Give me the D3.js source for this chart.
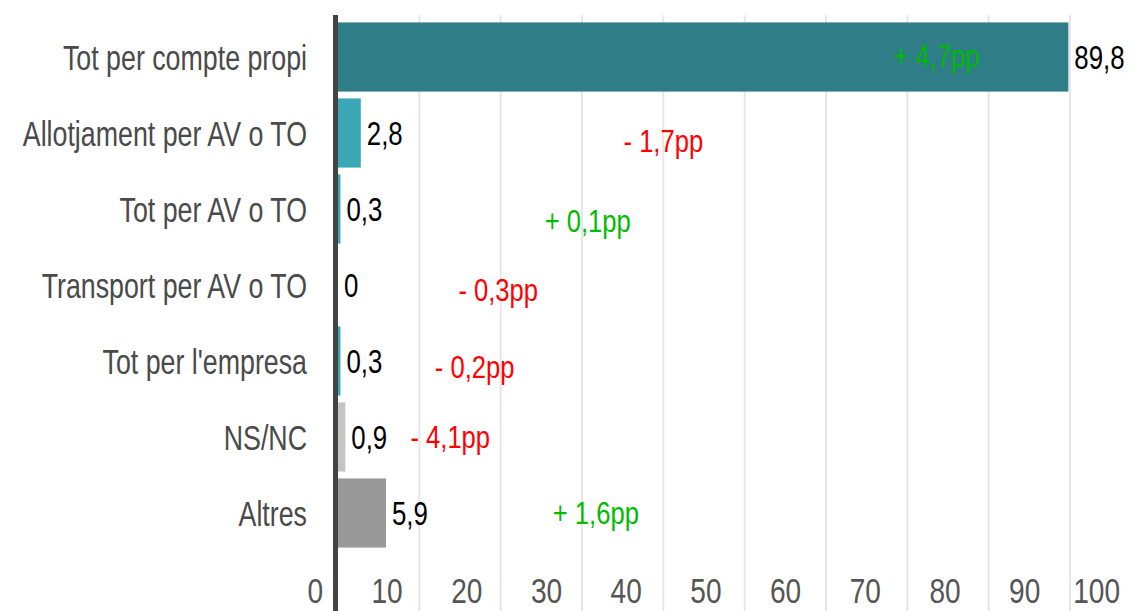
<!DOCTYPE html>
<html>
<head>
<meta charset="utf-8">
<script src="https://cdn.jsdelivr.net/npm/d3@7"></script>
<style>
  body { margin: 0; background: #fff; }
  svg text { font-family: "Liberation Sans", Arial, sans-serif; }
</style>
</head>
<body>
<svg id="chart"></svg>
<script>
'use strict';

// data
var categories = ['Tot per compte propi', 'Allotjament per AV o TO', 'Tot per AV o TO',
                  'Transport per AV o TO', "Tot per l'empresa", 'NS/NC', 'Altres'];
var values     = [89.8, 2.8, 0.3, 0, 0.3, 0.9, 5.9];
var valueText  = ['89,8', '2,8', '0,3', '0', '0,3', '0,9', '5,9'];
var diffs      = [4.7, -1.7, 0.1, -0.3, -0.2, -4.1, 1.6];
var diffText   = ['+ 4,7pp', '- 1,7pp', '+ 0,1pp', '- 0,3pp', '- 0,2pp', '- 4,1pp', '+ 1,6pp'];
var ticks      = [0, 10, 20, 30, 40, 50, 60, 70, 80, 90, 100];

// where each difference label sits (axis units, px below row centre)
var diffAt = [73.6, 40.0, 30.7, 19.7, 16.8, 13.8, 31.7];
var diffDy = [9.5, 18.5, 22.5, 15.5, 16.5, 11, 11];

// colours per bar
var barColors = ['#2e7d87', '#3aa7b5', '#3aa7b5', '#3aa7b5', '#3aa7b5', '#c4c4c4', '#999999'];

// chart size
var W = 1137, H = 611;
var x0 = 338, y0 = 19;

var svg = d3.select('#chart').attr('width', W).attr('height', H);

var x = d3.scaleLinear().domain([0, 90]).range([x0, 1070]);
var xLab = d3.scaleLinear().domain([0, 100]).range([323, 1120]);
var y = d3.scaleBand().domain(categories).range([y0, y0 + 76 * 7]).paddingInner(0.09).paddingOuter(0.045);
function mid(i){ return y(categories[i]) + y.bandwidth() / 2; }

// narrow text: the original uses a condensed face
function narrow(sel, size, sx){
  return sel.attr('font-size', size)
    .attr('transform', function(){
      return 'translate(' + this.__px + ',' + this.__py + ') scale(' + sx + ',1)';
    });
}
function place(sel, fx, fy){
  return sel.each(function(d, i){ this.__px = fx(d, i); this.__py = fy(d, i); });
}

// grid
svg.append('g').selectAll('line')
  .data(ticks.filter(function(d){ return d > 0; }))
  .join('line')
  .attr('x1', function(d){ return x(d); }).attr('x2', function(d){ return x(d); })
  .attr('y1', 15).attr('y2', H)
  .attr('stroke', '#e6e6e6').attr('stroke-width', 2);

// tick labels
var tl = svg.append('g').selectAll('text')
  .data(ticks)
  .join('text')
  .attr('text-anchor', 'end')
  .attr('fill', '#555')
  .text(function(d){ return d; });
narrow(place(tl, function(d){ return xLab(d); }, function(){ return 603; }), 36, 0.78);

// bars
svg.append('g').selectAll('rect')
  .data(values)
  .join('rect')
  .attr('x', x(0))
  .attr('y', function(d, i){ return y(categories[i]); })
  .attr('width', function(d){ return x(d) - x(0); })
  .attr('height', y.bandwidth())
  .attr('fill', function(d, i){ return barColors[i]; });

// category labels
var cl = svg.append('g').selectAll('text')
  .data(categories)
  .join('text')
  .attr('text-anchor', 'end')
  .attr('fill', '#4a4a4a')
  .text(function(d){ return d; });
narrow(place(cl, function(){ return 307; }, function(d, i){ return mid(i) + 12.5; }), 35, 0.765);

// value labels
var vl = svg.append('g').selectAll('text')
  .data(values)
  .join('text')
  .attr('fill', '#000')
  .text(function(d, i){ return valueText[i]; });
narrow(place(vl, function(d){ return x(d) + 6; }, function(d, i){ return mid(i) + 11.5; }), 34, 0.76);

// difference labels
var dl = svg.append('g').selectAll('text')
  .data(diffs)
  .join('text')
  .attr('text-anchor', 'middle')
  .attr('fill', function(d){ return d >= 0 ? '#00bb00' : '#ff0000'; })
  .text(function(d, i){ return diffText[i]; });
narrow(place(dl, function(d, i){ return x(diffAt[i]); }, function(d, i){ return mid(i) + diffDy[i]; }), 32, 0.8);

// axis line
svg.append('line')
  .attr('x1', x0 - 2.5).attr('x2', x0 - 2.5)
  .attr('y1', 15).attr('y2', H)
  .attr('stroke', '#444').attr('stroke-width', 5);
</script>
</body>
</html>
